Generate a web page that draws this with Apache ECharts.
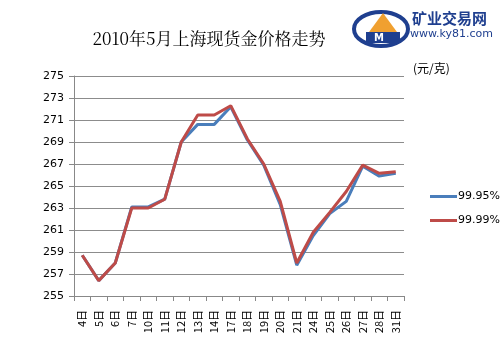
<!DOCTYPE html>
<html><head><meta charset="utf-8">
<script src="https://cdn.jsdelivr.net/npm/echarts@6/dist/echarts.min.js"></script>
<style>html,body{margin:0;padding:0;background:#fff}#c{width:500px;height:350px}</style>
</head><body><div id="c"></div>
<script>
const categories = ['4日','5日','6日','7日','10日','11日','12日','13日','14日','17日','18日','19日','20日','21日','24日','25日','26日','27日','28日','31日'];
const s9995 = [258.7,256.4,258.0,263.1,263.1,263.8,269.0,270.6,270.6,272.2,269.2,266.9,263.3,257.8,260.5,262.5,263.6,266.8,265.9,266.15];
const s9999 = [258.7,256.4,258.0,263.0,263.0,263.8,269.0,271.45,271.45,272.3,269.3,267.0,263.6,258.0,260.8,262.6,264.5,266.9,266.15,266.3];
const yTicks = [255,257,259,261,263,265,267,269,271,273,275];
const titleText = '2010年5月上海现货金价格走势';
const unitText = '(元/克)';

const chart = echarts.init(document.getElementById('c'));
const font = '"Noto Sans CJK SC", "DejaVu Sans", sans-serif';
chart.setOption({
  animation: false,
  backgroundColor: '#fff',
  title: { text: titleText, left: 204, top: 25, textAlign: 'center',
    textStyle: { fontSize: 17, fontWeight: 'normal', color: '#000', fontFamily: '"Noto Serif CJK SC","Noto Sans CJK SC", serif' } },
  grid: { left: 74, right: 96, top: 76, bottom: 54 },
  legend: { orient: 'vertical', left: 425, top: 186, itemGap: 13, itemWidth: 27, itemHeight: 3, icon: 'rect',
    textStyle: { fontSize: 11, color: '#000', fontFamily: 'DejaVu Sans', padding: [0,0,0,-4] },
    data: ['99.95%','99.99%'] },
  xAxis: { type: 'category', data: categories, boundaryGap: true,
    axisLine: { lineStyle: { color: '#888', width: 1 } },
    axisTick: { show: true, length: 5, inside: false, lineStyle: { color: '#888' } },
    axisLabel: { rotate: 90, fontSize: 11, color: '#000', margin: 14, fontFamily: font, interval: 0 } },
  yAxis: { type: 'value', min: 255, max: 275, interval: 2,
    axisLine: { show: true, lineStyle: { color: '#888' } },
    axisTick: { show: true, length: 5, lineStyle: { color: '#888' } },
    axisLabel: { fontSize: 11, color: '#000', margin: 10, fontFamily: 'DejaVu Sans',
      formatter: v => yTicks.includes(v) ? String(v) : '' },
    splitLine: { lineStyle: { color: '#8c8c8c', width: 1 } } },
  series: [
    { name: '99.95%', type: 'line', data: s9995, showSymbol: false, symbol: 'none',
      lineStyle: { color: '#4a7ebb', width: 3 }, itemStyle: { color: '#4a7ebb' } },
    { name: '99.99%', type: 'line', data: s9999, showSymbol: false, symbol: 'none',
      lineStyle: { color: '#be4b48', width: 3 }, itemStyle: { color: '#be4b48' } }
  ],
  graphic: [
    { type: 'text', left: 413, top: 62, style: { text: unitText, fontSize: 12, fill: '#000', fontFamily: font } },
    { type: 'ellipse', shape: { cx: 381, cy: 29, rx: 27, ry: 17 }, style: { fill: 'none', stroke: '#1f3f8f', lineWidth: 4 } },
    { type: 'polygon', shape: { points: [[383,13],[369,32],[397,32]] }, style: { fill: '#f0a030' } },
    { type: 'rect', shape: { x: 366, y: 32, width: 34, height: 11 }, style: { fill: '#1f3f8f' } },
    { type: 'text', left: 374, top: 33, style: { text: 'M', fontSize: 10, fill: '#fff', fontFamily: 'DejaVu Sans', fontWeight: 'bold' } },
    { type: 'text', left: 412, top: 11, style: { text: '矿业交易网', fontSize: 15, fill: '#1f3f8f', fontFamily: font, fontWeight: 'bold' } },
    { type: 'text', left: 410, top: 29, style: { text: 'www.ky81.com', fontSize: 11, fill: '#1f3f8f', fontFamily: 'DejaVu Sans' } }
  ]
});
</script></body></html>
